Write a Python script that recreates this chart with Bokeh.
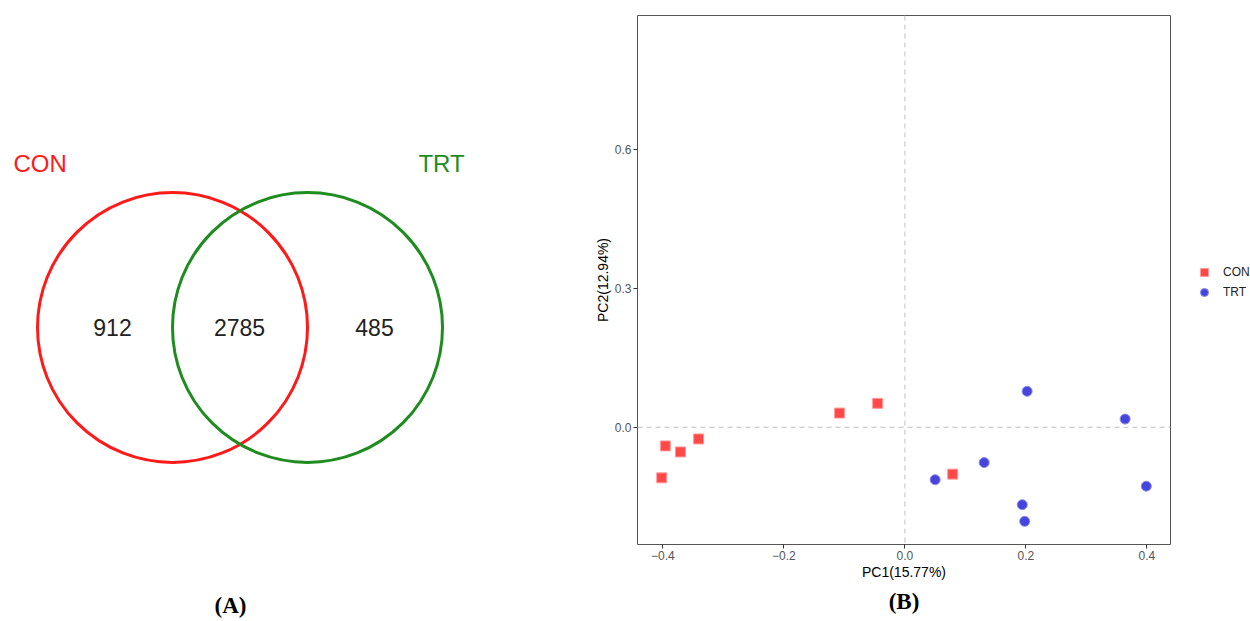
from bokeh.plotting import figure
from bokeh.layouts import row
from bokeh.models import (Span, Legend, LegendItem, FixedTicker, Title, Range1d)
from bokeh.core.properties import value
from bokeh.embed import file_html
from bokeh.resources import INLINE

# ---------------- data ----------------
venn_sets = ["CON", "TRT"]
venn_colors = ["#FF1A1A", "#1E8C1E"]
venn_counts = [912, 2785, 485]          # CON only, shared, TRT only

con_pc1 = [-0.402, -0.396, -0.371, -0.341, -0.108, -0.045, 0.079]
con_pc2 = [-0.109, -0.040, -0.053, -0.025, 0.031, 0.052, -0.101]
trt_pc1 = [0.050, 0.131, 0.202, 0.364, 0.399, 0.194, 0.198]
trt_pc2 = [-0.113, -0.076, 0.078, 0.018, -0.127, -0.167, -0.203]

x_ticks = [-0.4, -0.2, 0.0, 0.2, 0.4]
x_tick_labels = ["\u22120.4", "\u22120.2", "0.0", "0.2", "0.4"]
y_ticks = [0.0, 0.3, 0.6]
y_tick_labels = ["0.0", "0.3", "0.6"]
pc1_label = "PC1(15.77%)"
pc2_label = "PC2(12.94%)"
panel_labels = ["(A)", "(B)"]

SANS = "Liberation Sans"
SERIF = "Liberation Serif"

# ---------------- Venn (panel A) ----------------
VW, VH, TOP = 590, 621, 15
pa = figure(frame_width=VW, frame_height=VH - TOP, x_range=Range1d(0, VW),
            y_range=Range1d(VH, TOP), output_backend="svg",
            toolbar_location=None, min_border=0, min_border_top=TOP)
pa.axis.visible = False
pa.grid.visible = False
pa.outline_line_color = None

cy = 327
r = 135
centers = [172, 307]
pa.circle(x=centers, y=[cy, cy], radius=r, fill_color=None,
          line_color=venn_colors, line_width=3)

pa.text(x=[13, 441], y=[163, 163], text=venn_sets, text_color=venn_colors,
        text_font=value(SANS), text_font_size="24px",
        text_align=["left", "center"], text_baseline="middle")

pa.text(x=[112, 239, 374], y=[cy, cy, cy], text=[str(v) for v in venn_counts],
        text_color="#222222", text_font=value(SANS), text_font_size="23px",
        text_align="center", text_baseline="middle")

pa.text(x=[230], y=[605], text=[panel_labels[0]], text_color="black",
        text_font=value(SERIF), text_font_size="23px", text_font_style="bold",
        text_align="center", text_baseline="middle")

# ---------------- PCA (panel B) ----------------
pb = figure(frame_width=533, frame_height=529,
            x_range=Range1d(-0.442, 0.439), y_range=Range1d(-0.253, 0.890),
            output_backend="svg", toolbar_location=None,
            min_border_left=47, min_border_right=0, min_border_top=TOP,
            min_border_bottom=77)
pb.grid.visible = False
pb.outline_line_color = "#555555"
pb.outline_line_width = 1
pb.background_fill_color = "white"

pb.add_layout(Span(location=0, dimension="height", line_color="#CCCCCC",
                   line_dash="5 4", line_width=1.2))
pb.add_layout(Span(location=0, dimension="width", line_color="#CCCCCC",
                   line_dash="5 4", line_width=1.2))

r_con = pb.scatter(con_pc1, con_pc2, marker="square", size=10,
                   fill_color="#FF4848", line_color="#FF9A9A", line_width=1)
r_trt = pb.scatter(trt_pc1, trt_pc2, marker="circle", size=10,
                   fill_color="#4545DD", line_color="#8A8AEE", line_width=1)

pb.xaxis.ticker = FixedTicker(ticks=x_ticks)
pb.yaxis.ticker = FixedTicker(ticks=y_ticks)
pb.xaxis.major_label_overrides = dict(zip(x_ticks, x_tick_labels))
pb.yaxis.major_label_overrides = dict(zip(y_ticks, y_tick_labels))
pb.xaxis.axis_label = pc1_label
pb.yaxis.axis_label = pc2_label
for ax in (pb.xaxis, pb.yaxis):
    ax.axis_line_color = None
    ax.minor_tick_line_color = None
    ax.major_tick_line_color = "#333333"
    ax.major_tick_in = 0
    ax.major_tick_out = 4
    ax.major_label_text_font = SANS
    ax.major_label_text_font_size = "12px"
    ax.major_label_text_color = "#555555"
    ax.axis_label_text_font = SANS
    ax.axis_label_text_font_size = "14px"
    ax.axis_label_text_font_style = "normal"
    ax.axis_label_text_color = "black"
    ax.major_label_standoff = 2
    ax.axis_label_standoff = 1

legend = Legend(items=[LegendItem(label="CON", renderers=[r_con]),
                       LegendItem(label="TRT", renderers=[r_trt])],
                location=(24, 242), orientation="vertical",
                glyph_width=20, glyph_height=20, label_standoff=9,
                label_width=30, spacing=0,
                padding=0, margin=0, border_line_color=None,
                background_fill_alpha=0, label_text_font=SANS,
                label_text_font_size="12px", label_text_color="#222222")
pb.add_layout(legend, "right")
pb.min_border_right = 80

pb.add_layout(Title(text=panel_labels[1], align="center", text_font=SERIF,
                    text_font_size="23px", text_font_style="bold",
                    text_color="black", standoff=8), "below")

layout = row(pa, pb)
open("out.html", "w").write(file_html(layout, INLINE))
